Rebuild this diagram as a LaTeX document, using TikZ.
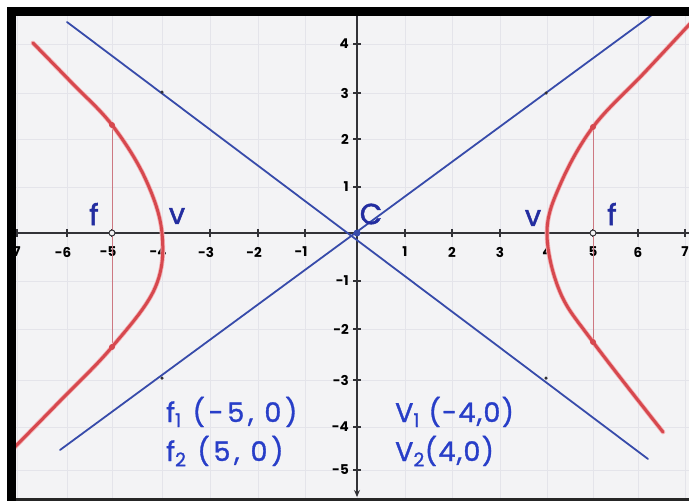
\documentclass[tikz,border=0pt]{standalone}
\usepackage{fontspec}
\newfontfamily\hand{Poppins}
\usetikzlibrary{arrows.meta}
\definecolor{bg}{RGB}{243,243,245}
\definecolor{gridc}{RGB}{228,228,234}
\definecolor{axisc}{RGB}{50,50,55}
\definecolor{hyp}{RGB}{214,72,78}
\definecolor{halo}{RGB}{244,178,182}
\definecolor{asym}{RGB}{55,75,170}
\definecolor{ink}{RGB}{35,45,160}
\definecolor{ink2}{RGB}{40,62,200}
\definecolor{latus}{RGB}{205,120,130}
\begin{document}
\begin{tikzpicture}[x=1pt,y=-1pt,
  ticklbl/.style={font=\hand\bfseries\fontsize{13.5}{13.5}\selectfont, text=black, inner sep=0pt},
  pointlbl/.style={font=\hand\fontsize{29}{29}\selectfont\addfontfeature{FakeBold=1.6}, text=ink, inner sep=0pt},
  eqlbl/.style={font=\hand\fontsize{27}{27}\selectfont\addfontfeature{LetterSpace=14,FakeBold=1.2}, text=ink2, inner sep=0pt, anchor=base west},
  eqlblv/.style={font=\hand\fontsize{27}{27}\selectfont\addfontfeature{LetterSpace=5,FakeBold=1.2}, text=ink2, inner sep=0pt, anchor=base west},
  hypline/.style={hyp, line width=3pt, line cap=round, line join=round},
  hyphalo/.style={halo, line width=4.6pt, line cap=round, line join=round},
  asymline/.style={asym, line width=1.8pt, line cap=round},
  gridline/.style={gridc, line width=0.7pt},
  axisline/.style={axisc, line width=1.6pt},
  tickmark/.style={axisc, line width=1.4pt},
  smalldot/.style={fill=axisc, draw=none, circle, inner sep=0pt, minimum size=3.5pt},
  reddot/.style={fill=hyp, draw=none, circle, inner sep=0pt, minimum size=6pt}]
\useasboundingbox (0,0) rectangle (689,501);
\fill[white] (0,0) rectangle (689,501);
\fill[bg] (16,16) rectangle (689,498);
\begin{scope}
\clip (16,16) rectangle (689,498);
% grid
\foreach \x in {17,67,112,162,210,258,305,357,405,452,500,547,593,638,685}
  \draw[gridline] (\x,16) -- (\x,498);
\foreach \y in {44,93,139,187,233,281,329,380,427,470}
  \draw[gridline] (16,\y) -- (689,\y);
% axes
\coordinate (xl) at (0,233);
\coordinate (xr) at (689,233);
\coordinate (yt) at (357,16);
\coordinate (yb) at (357,497);
\draw[axisline] (xl) -- (xr);
\draw[axisline, -{Stealth[length=7pt,width=6pt]}] (yt) -- (yb);
% x ticks and labels
\foreach \x/\n in {17/7,67/6,112/5,162/4,210/3,258/2,305/1}{
  \draw[tickmark] (\x,229) -- (\x,237);
  \node[ticklbl] (xt\x) at (\x,252) {\llap{-}\n};
}
\foreach \x/\n in {405/1,452/2,500/3,547/4,593/5,638/6,685/7}{
  \draw[tickmark] (\x,229) -- (\x,237);
  \node[ticklbl] (xt\x) at (\x,252) {\n};
}
% y ticks and labels
\foreach \y/\n in {44/4,93/3,139/2,187/1,281/-1,329/-2,380/-3,427/-4,470/-5}{
  \draw[tickmark] (353,\y) -- (361,\y);
  \node[ticklbl, anchor=east] (yt\y) at (349,\y) {\n};
}
% asymptotes
\coordinate (a1) at (67,22);
\coordinate (a2) at (648,459);
\coordinate (b1) at (60,450);
\coordinate (b2) at (660,9);
\draw[asymline] (a1) -- (a2);
\draw[asymline] (b1) -- (b2);
\node[smalldot] (d1) at (162,92) {};
\node[smalldot] (d2) at (546,93) {};
\node[smalldot] (d3) at (162,378) {};
\node[smalldot] (d4) at (546,378) {};
% latus rectum lines
\coordinate (l1) at (112,125);
\coordinate (l2) at (112,347);
\coordinate (r1) at (593,127);
\coordinate (r2) at (593,342);
\draw[latus, line width=0.8pt] (l1) -- (l2);
\draw[latus, line width=0.8pt] (r1) -- (r2);
% hyperbola branches
\foreach \st in {hyphalo,hypline}{
\draw[\st] plot[smooth, tension=0.6] coordinates {(33,43) (72,83) (112,125) (145,178) (162,233) (155,288) (112,347) (60,401) (4,458)};
\draw[\st] plot[smooth, tension=0.6] coordinates {(700,13) (645,72) (593,127) (560,185) (547,233) (560,292) (593,342) (663,432)};
}
\node[reddot] (p1) at (l1) {};
\node[reddot] (p2) at (l2) {};
\node[reddot] (p3) at (r1) {};
\node[reddot] (p4) at (r2) {};
\node[circle, draw=axisc, line width=0.9pt, fill=bg, inner sep=0pt, minimum size=6pt] (fL) at (112,233) {};
\node[circle, draw=axisc, line width=0.9pt, fill=bg, inner sep=0pt, minimum size=6pt] (fR) at (593,233) {};
\node[circle, fill=asym, inner sep=0pt, minimum size=7pt] (c0) at (357,233) {};
% labels
\node[pointlbl] (lf1) at (94,214) {f};
\node[pointlbl] (lv1) at (177,216) {v};
\node[pointlbl] (lc) at (371,214) {C};
\node[pointlbl] (lv2) at (533,218) {v};
\node[pointlbl] (lf2) at (612,214) {f};
\node[eqlbl] (e1) at (166,422) {f\textsubscript{1} (-5, 0)};
\node[eqlbl] (e2) at (166,461) {f\textsubscript{2} (5, 0)};
\node[eqlblv] (e3) at (395,422) {V\textsubscript{1} (-4,0)};
\node[eqlblv] (e4) at (395,461) {V\textsubscript{2}(4,0)};
\end{scope}
% frame
\fill[black] (7,7) rectangle (689,16);
\fill[black] (7,7) rectangle (16,501);
\fill[black!85] (16,498) rectangle (689,501);
\end{tikzpicture}
\end{document}
